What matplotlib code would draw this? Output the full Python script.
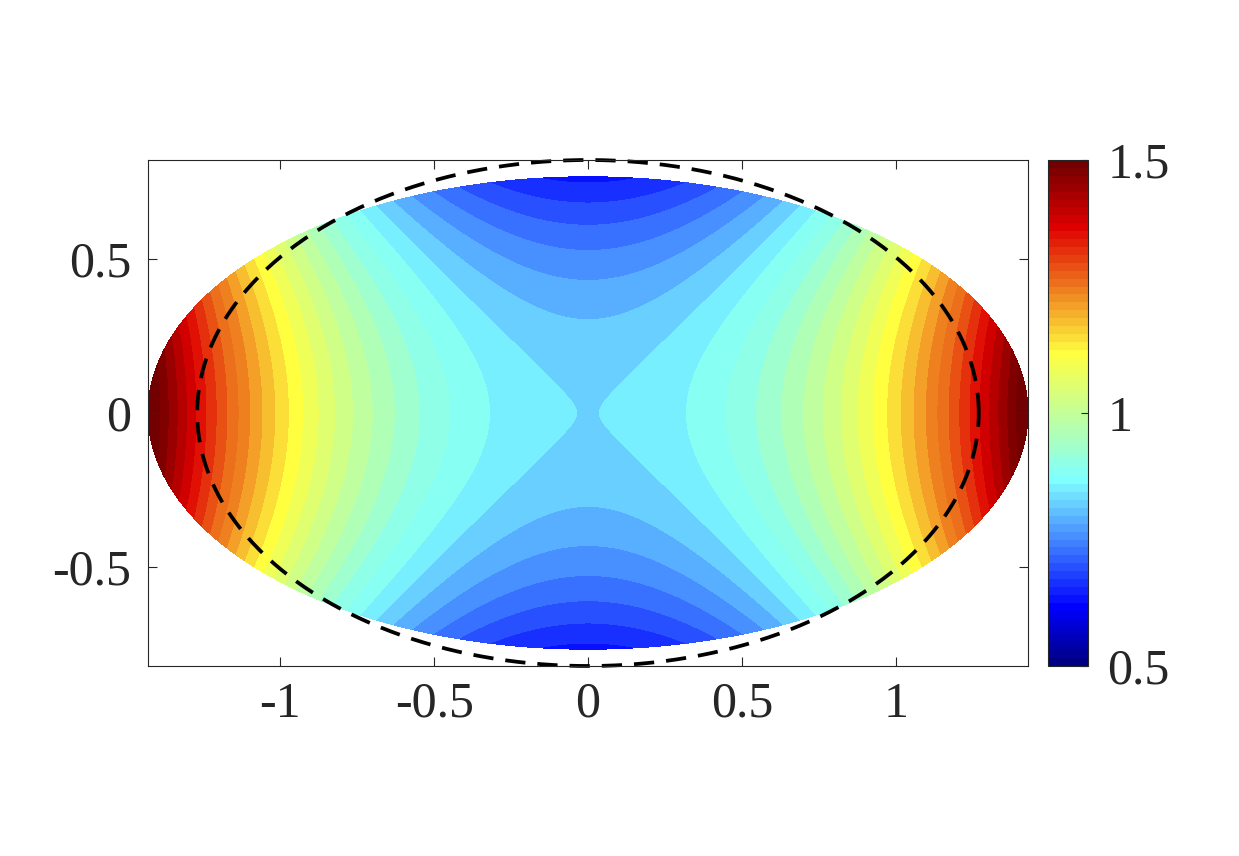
import numpy as np
import matplotlib
matplotlib.use("Agg")
import matplotlib.pyplot as plt
from matplotlib.colors import ListedColormap, Normalize
from matplotlib.cm import ScalarMappable

# ---------------- data ----------------
# filled (deformed) elliptical domain semi-axes
fill_semi_axes = [1.43, 0.768]
# dashed reference ellipse semi-axes
dash_semi_axes = [1.27, 0.8225]
# field model coefficients (value = c + a2 x^2 + a4 x^4 - b2 y^2 + cxy x^2 y^2)
field_center = 0.8296
field_x2 = 0.294
field_x4 = 0.024
field_y2 = 0.321
field_x2y2 = 0.0
# contour levels
level_base = 0.83
level_step = 0.03
level_k = np.arange(-8, 26)
# colour scale
clim = [0.5, 1.5]
cbar_ticks = [0.5, 1.0, 1.5]
cbar_ticklabels = ["0.5", "1", "1.5"]
x_ticks = [-1, -0.5, 0, 0.5, 1]
x_ticklabels = ["-1", "-0.5", "0", "0.5", "1"]
y_ticks = [-0.5, 0, 0.5]
y_ticklabels = ["-0.5", "0", "0.5"]
# colormap anchors (index in 64-colour map, rgb)
cmap_anchor_idx = [0, 7, 23, 39, 55, 63]
cmap_anchor_rgb = [(0.0, 0.0, 0.53), (0.0, 0.0, 1.0), (0.5, 1.0, 1.0),
                   (1.0, 1.0, 0.25), (0.87, 0.0, 0.0), (0.45, 0.0, 0.0)]

# ---------------- build colormap ----------------
idx = np.arange(64)
anc = np.array(cmap_anchor_rgb)
cols = np.stack([np.interp(idx, cmap_anchor_idx, anc[:, c]) for c in range(3)], axis=1)
cmap = ListedColormap(cols)
norm = Normalize(vmin=clim[0], vmax=clim[1])

# ---------------- grid over the ellipse ----------------
u = np.linspace(-1, 1, 501)
U, V = np.meshgrid(u, u)
X = fill_semi_axes[0] * U * np.sqrt(1 - V**2 / 2)
Y = fill_semi_axes[1] * V * np.sqrt(1 - U**2 / 2)
F = (field_center + field_x2 * X**2 + field_x4 * X**4
     - field_y2 * Y**2 + field_x2y2 * X**2 * Y**2)
levels = level_base + level_step * level_k

# ---------------- figure ----------------
tc = "#262626"
plt.rcParams['font.family'] = ['Liberation Serif', 'DejaVu Serif']
fig = plt.figure(figsize=(12.39, 8.56), dpi=100)
ax = fig.add_axes([148/1239, 1-666/856, 880/1239, 506/856])
ax.contourf(X, Y, F, levels=levels, cmap=cmap, norm=norm, antialiased=False)

t = np.linspace(0, 2*np.pi, 600)
ax.plot(dash_semi_axes[0]*np.cos(t), dash_semi_axes[1]*np.sin(t), color='black',
        lw=2.7, linestyle=(0, (5.4, 3.2)), clip_on=False)

ax.set_xlim(-fill_semi_axes[0], fill_semi_axes[0])
ax.set_ylim(-dash_semi_axes[1], dash_semi_axes[1])
ax.set_xticks(x_ticks)
ax.set_xticklabels(x_ticklabels)
ax.set_yticks(y_ticks)
ax.set_yticklabels(y_ticklabels)
ax.tick_params(direction='in', length=6.3, width=0.8, colors=tc, labelsize=36,
               top=True, right=True)
ax.tick_params(axis='x', pad=11)
ax.tick_params(axis='y', pad=12)
for s in ax.spines.values():
    s.set_color(tc)
    s.set_linewidth(0.8)

cax = fig.add_axes([1048/1239, 1-666/856, 40/1239, 506/856])
sm = ScalarMappable(norm=norm, cmap=cmap)
cb = fig.colorbar(sm, cax=cax)
cb.set_ticks(cbar_ticks)
cb.set_ticklabels(cbar_ticklabels)
cax.tick_params(direction='in', length=5, width=0.8, colors=tc, labelsize=36, pad=14)
cb.outline.set_edgecolor(tc)
cb.outline.set_linewidth(0.8)

fig.savefig("out.png", dpi=100)
